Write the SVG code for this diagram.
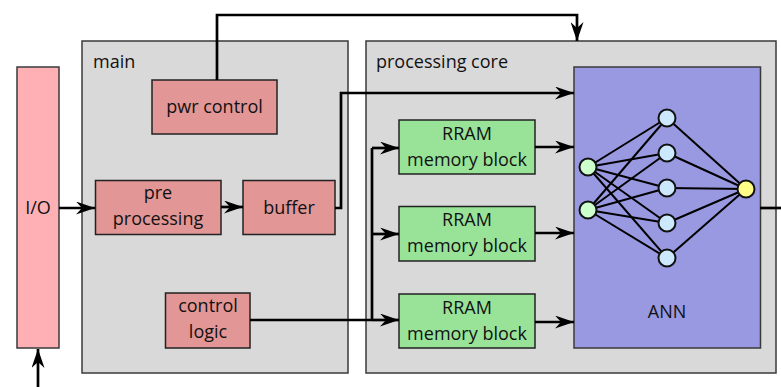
<svg xmlns="http://www.w3.org/2000/svg" width="781" height="387" viewBox="0 0 781 387">
  <defs>
    <marker id="arrow" viewBox="0 0 19 13" refX="19" refY="6.5" markerWidth="19" markerHeight="13" markerUnits="userSpaceOnUse" orient="auto">
      <path d="M0,0 L19,6.5 L0,13 L6,6.5 z" fill="#000"/>
    </marker>
    <style>
      .frame { fill: #d9d9d9; stroke: #3a3a3a; stroke-width: 1.5; }
      .io { fill: #ffb0b4; stroke: #3a3a3a; stroke-width: 1.5; }
      .red { fill: #e39696; stroke: #222; stroke-width: 1.5; }
      .green { fill: #99e399; stroke: #222; stroke-width: 1.5; }
      .ann { fill: #9999e2; stroke: #3a3a3a; stroke-width: 1.5; }
      .lbl { font-family: "Open Sans", "Noto Sans", sans-serif; font-size: 18px; fill: #111; }
      .c { text-anchor: middle; }
      .wire { fill: none; stroke: #000; stroke-width: 2.7; }
      .arr { marker-end: url(#arrow); }
      .syn { stroke: #000; stroke-width: 2; }
      .nin { fill: #ccffcc; stroke: #111; stroke-width: 2; }
      .nhid { fill: #cce8ff; stroke: #111; stroke-width: 2; }
      .nout { fill: #ffff88; stroke: #111; stroke-width: 2; }
    </style>
  </defs>

  <!-- containers -->
  <g id="main">
    <rect class="frame" x="82" y="41" width="266" height="332"/>
    <text class="lbl" x="93" y="68">main</text>
  </g>
  <g id="processing-core">
    <rect class="frame" x="366" y="41" width="410" height="332"/>
    <text class="lbl" x="376" y="68">processing core</text>
  </g>

  <g id="io">
    <rect class="io" x="17" y="67" width="42" height="281"/>
    <text class="lbl c" x="38" y="214">I/O</text>
  </g>

  <g id="pwr-control">
    <rect class="red" x="152" y="80" width="125" height="54"/>
    <text class="lbl c" x="214.5" y="113">pwr control</text>
  </g>
  <g id="pre-processing">
    <rect class="red" x="95.5" y="180.5" width="125.5" height="54"/>
    <text class="lbl c" x="158" y="199">pre</text>
    <text class="lbl c" x="158" y="225">processing</text>
  </g>
  <g id="buffer">
    <rect class="red" x="243" y="180.5" width="92" height="54"/>
    <text class="lbl c" x="289" y="214">buffer</text>
  </g>
  <g id="control-logic">
    <rect class="red" x="165.5" y="293" width="84.5" height="55"/>
    <text class="lbl c" x="208" y="312">control</text>
    <text class="lbl c" x="208" y="338">logic</text>
  </g>

  <g id="rram-1">
    <rect class="green" x="399" y="120" width="136" height="54"/>
    <text class="lbl c" x="467" y="140">RRAM</text>
    <text class="lbl c" x="467" y="166">memory block</text>
  </g>
  <g id="rram-2">
    <rect class="green" x="399" y="206.5" width="136" height="54.5"/>
    <text class="lbl c" x="467" y="226">RRAM</text>
    <text class="lbl c" x="467" y="252">memory block</text>
  </g>
  <g id="rram-3">
    <rect class="green" x="399" y="294" width="136" height="54"/>
    <text class="lbl c" x="467" y="314">RRAM</text>
    <text class="lbl c" x="467" y="340">memory block</text>
  </g>

  <g id="ann">
    <rect class="ann" x="574" y="67" width="186.5" height="281"/>
    <text class="lbl c" x="667" y="318">ANN</text>
    <g id="synapses">
      <line class="syn" x1="588" y1="167" x2="667" y2="118"/>
      <line class="syn" x1="588" y1="167" x2="667" y2="153"/>
      <line class="syn" x1="588" y1="167" x2="667" y2="188"/>
      <line class="syn" x1="588" y1="167" x2="667" y2="223"/>
      <line class="syn" x1="588" y1="167" x2="667" y2="258"/>
      <line class="syn" x1="588" y1="210" x2="667" y2="118"/>
      <line class="syn" x1="588" y1="210" x2="667" y2="153"/>
      <line class="syn" x1="588" y1="210" x2="667" y2="188"/>
      <line class="syn" x1="588" y1="210" x2="667" y2="223"/>
      <line class="syn" x1="588" y1="210" x2="667" y2="258"/>
      <line class="syn" x1="667" y1="118" x2="746" y2="189"/>
      <line class="syn" x1="667" y1="153" x2="746" y2="189"/>
      <line class="syn" x1="667" y1="188" x2="746" y2="189"/>
      <line class="syn" x1="667" y1="223" x2="746" y2="189"/>
      <line class="syn" x1="667" y1="258" x2="746" y2="189"/>
    </g>
    <circle class="nin" cx="588" cy="167" r="8.5"/>
    <circle class="nin" cx="588" cy="210" r="8.5"/>
    <circle class="nhid" cx="667" cy="118" r="8.5"/>
    <circle class="nhid" cx="667" cy="153" r="8.5"/>
    <circle class="nhid" cx="667" cy="188" r="8.5"/>
    <circle class="nhid" cx="667" cy="223" r="8.5"/>
    <circle class="nhid" cx="667" cy="258" r="8.5"/>
    <circle class="nout" cx="746" cy="189" r="8.5"/>
  </g>

  <!-- connectors -->
  <g id="connectors">
    <path class="wire arr" d="M38,387 V349"/>
    <path class="wire arr" d="M59,208 H95"/>
    <path class="wire arr" d="M221,207 H243"/>
    <path class="wire arr" d="M217,80 V15 H577 V41"/>
    <path class="wire arr" d="M335,208 H341 V93 H574"/>
    <path class="wire" d="M250,320 H372"/>
    <path class="wire" d="M372,320 V148"/>
    <path class="wire arr" d="M372,148 H399"/>
    <path class="wire arr" d="M372,234 H399"/>
    <path class="wire arr" d="M372,320 H399"/>
    <path class="wire arr" d="M535,147 H574"/>
    <path class="wire arr" d="M535,233 H574"/>
    <path class="wire arr" d="M535,322 H574"/>
    <path class="wire" d="M760,208 H781"/>
  </g>
</svg>
